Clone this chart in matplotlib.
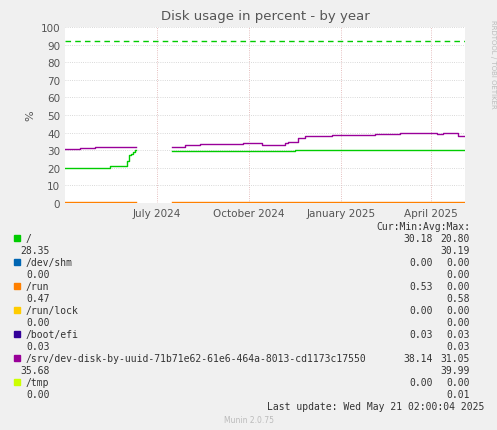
import matplotlib
matplotlib.use("Agg")
import matplotlib.pyplot as plt
import numpy as np
import datetime as dt

start = dt.date(2024, 3, 31)
def d(n): return start + dt.timedelta(days=n)

# Data segments (day offsets, values); NaN = gap
root_days = [0, 45, 60, 62, 64, 66, 68, 70, 71, 107, 200, 230, 400]
root_vals = [20, 21, 21, 24, 27, 28, 29, 30, np.nan, 29.8, 29.8, 30.2, 30.2]
srv_days = [0, 15, 30, 70, 71, 107, 120, 135, 178, 197, 220, 223, 233, 235, 240, 267, 310, 335, 372, 378, 393, 400]
srv_vals = [30.5, 31, 32, 32, np.nan, 32, 33, 33.5, 34, 33, 34, 34.5, 37, 37, 38, 38.5, 39, 39.5, 39, 39.5, 38, 38]
run_days = [0, 70, 71, 107, 400]
run_vals = [0.5, 0.5, np.nan, 0.5, 0.5]
warn = 92

xticks = [dt.date(2024, 7, 1), dt.date(2024, 10, 1), dt.date(2025, 1, 1), dt.date(2025, 4, 1)]
xlabels = ["July 2024", "October 2024", "January 2025", "April 2025"]

fig = plt.figure(figsize=(4.97, 4.31), dpi=100, facecolor="#F0F0F0")
ax = fig.add_axes([65/497, 1-204/431, 400/497, 176/431])
ax.set_facecolor("white")

ax.step([d(n) for n in root_days], root_vals, where="post", color="#00CC00", lw=1)
ax.step([d(n) for n in srv_days], srv_vals, where="post", color="#990099", lw=1)
ax.step([d(n) for n in run_days], run_vals, where="post", color="#FF8000", lw=1)
ax.axhline(warn, color="#00CC00", lw=1, ls=(0, (4, 3)))

ax.set_xlim(d(0), d(400))
ax.set_ylim(0, 100)
ax.set_yticks(range(0, 101, 10))
ax.set_xticks(xticks)
ax.set_xticklabels(xlabels)
ax.tick_params(labelsize=7.5, colors="#555555", length=0)
ax.grid(True, color="#DDAAAA", ls=":", lw=0.6)
ax.yaxis.grid(True, color="#CCCCCC", ls=":")
for s in ax.spines.values():
    s.set_visible(False)
ax.set_ylabel("%", fontsize=8, color="#555555")
ax.set_title("Disk usage in percent - by year", fontsize=9.5, color="#555555")
fig.text(0.985, 0.85, "RRDTOOL / TOBI OETIKER", rotation=270, fontsize=5, color="#BBBBBB", va="center")

mono = dict(family="DejaVu Sans Mono", fontsize=7, color="#333333")
fig.text(470/497, 1-227/431, "Cur:Min:Avg:Max:", ha="right", va="center", **mono)
entries = [
    ("/", "#00CC00", "30.18", "20.80", "28.35", "30.19"),
    ("/dev/shm", "#0066B3", "0.00", "0.00", "0.00", "0.00"),
    ("/run", "#FF8000", "0.53", "0.00", "0.47", "0.58"),
    ("/run/lock", "#FFCC00", "0.00", "0.00", "0.00", "0.00"),
    ("/boot/efi", "#330099", "0.03", "0.03", "0.03", "0.03"),
    ("/srv/dev-disk-by-uuid-71b71e62-61e6-464a-8013-cd1173c17550", "#990099", "38.14", "31.05", "35.68", "39.99"),
    ("/tmp", "#CCFF00", "0.00", "0.00", "0.00", "0.01"),
]
y0 = 239
for i, (name, col, cur, mn, avg, mx) in enumerate(entries):
    y = y0 + i * 24
    fig.patches.append(plt.Rectangle((14/497, 1-(y+3)/431), 6/497, 6/431, transform=fig.transFigure, color=col))
    fig.text(26/497, 1-y/431, name, va="center", **mono)
    fig.text(433/497, 1-y/431, cur, va="center", ha="right", **mono)
    fig.text(470/497, 1-y/431, mn, va="center", ha="right", **mono)
    fig.text(50/497, 1-(y+12)/431, avg, va="center", ha="right", **mono)
    fig.text(470/497, 1-(y+12)/431, mx, va="center", ha="right", **mono)
fig.text(484/497, 1-407/431, "Last update: Wed May 21 02:00:04 2025", ha="right", va="center", **mono)
fig.text(0.5, 1-421/431, "Munin 2.0.75", ha="center", va="center", fontsize=5.5, color="#BBBBBB")
fig.savefig("out.png", dpi=100, facecolor=fig.get_facecolor())
